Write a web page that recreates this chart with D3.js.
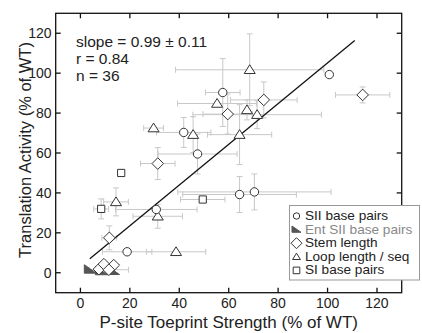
<!DOCTYPE html>
<html><head><meta charset="utf-8">
<script src="https://cdn.jsdelivr.net/npm/d3@7"></script>
<style>body{margin:0;background:#fff}svg{display:block}text{font-family:"Liberation Sans",Arial,sans-serif;fill:#222}</style>
</head><body><svg id="c" width="422" height="333"></svg>
<script>
// Data: [x, y, xerr, yerr]
const sii = [[57.6,90.3,7,17],[41.8,70.3,11,7.5],[100.7,99.3,0,0],[47.4,59.5,16,10],[64.4,39.2,23,9],[70.4,40.5,31,9],[30.7,31.7,16.5,0],[18.9,10.5,10,0]];
const entSii = [[4,1.6,0,0],[13.4,0.9,0,0],[8.5,0.8,0,0]];
const stem = [[74.2,86.6,13.5,9],[59.6,79.5,10,10],[114.2,89.1,11,4],[31.3,54.7,7,8],[11.7,17.5,3,6],[7.5,1.8,0,0],[9.5,4.3,0,0],[13.5,3.8,0,0],[11.5,1.5,8,0]];
const loop = [[68.5,101.7,30,18],[55.3,84.8,16,0],[67.4,81.6,0,5],[71.5,79.2,26,7],[64.4,69.2,13,15],[29.6,72.5,4,0],[45.6,69.2,0,9],[14.4,35.5,5,7],[31.3,28.3,10,6],[38.7,10.5,12,0]];
const si = [[16.5,50.0,0,0],[49.5,36.7,9,0],[8.4,32.0,3,5]];
const fitLine = [[3.8,7.0],[111,116.4]];
const xTicks = [0,20,40,60,80,100,120];
const yTicks = [0,20,40,60,80,100,120];
const legendLabels = ["SII base pairs","Ent SII base pairs","Stem length","Loop length / seq","SI base pairs"];
const stats = ["slope = 0.99 \u00b1 0.11","r = 0.84","n = 36"];

const svg = d3.select("#c");
const L=55.7,R=401.7,T=13.3,B=292.7;
const x = d3.scaleLinear().domain([-10,130]).range([L,R]);
const y = d3.scaleLinear().domain([-10,130]).range([B,T]);
const ink="#333", eb="#c8c8c8";

// error bars
const all = [].concat(sii,entSii,stem,loop,si);
const gE = svg.append("g").attr("stroke",eb).attr("stroke-width",1).attr("fill","none");
all.forEach(d=>{
  const [vx,vy,ex,ey]=d;
  if(ex>0){
    gE.append("line").attr("x1",x(vx-ex)).attr("x2",x(vx+ex)).attr("y1",y(vy)).attr("y2",y(vy));
    [vx-ex,vx+ex].forEach(v=>gE.append("line").attr("x1",x(v)).attr("x2",x(v)).attr("y1",y(vy)-3).attr("y2",y(vy)+3));
  }
  if(ey>0){
    gE.append("line").attr("x1",x(vx)).attr("x2",x(vx)).attr("y1",y(vy-ey)).attr("y2",y(vy+ey));
    [vy-ey,vy+ey].forEach(v=>gE.append("line").attr("y1",y(v)).attr("y2",y(v)).attr("x1",x(vx)-3).attr("x2",x(vx)+3));
  }
});

// fit line
svg.append("line").attr("x1",x(fitLine[0][0])).attr("y1",y(fitLine[0][1]))
  .attr("x2",x(fitLine[1][0])).attr("y2",y(fitLine[1][1])).attr("stroke","#111").attr("stroke-width",1.3);

// marker shapes
const shapes = {
  circle: s=>d3.symbol().type(d3.symbolCircle).size(Math.PI*s*s)(),
  diamond: s=>`M0,${-s}L${s},0L0,${s}L${-s},0Z`,
  tri: s=>`M0,${-s}L${s*1.1},${s*0.75}L${-s*1.1},${s*0.75}Z`,
  square: s=>`M${-s},${-s}H${s}V${s}H${-s}Z`,
  ent: s=>`M${-s},${-s*0.8}L${-s},${s*0.6}L${s},${s*0.6}Z`
};
function plot(data,shape,size,fill,stroke){
  svg.append("g").selectAll("path").data(data).join("path")
    .attr("d",shapes[shape](size)).attr("transform",d=>`translate(${x(d[0])},${y(d[1])})`)
    .attr("fill",fill).attr("stroke",stroke).attr("stroke-width",1);
}
plot(entSii,"ent",6,"#555","#555");
plot(si,"square",3.6,"#fff",ink);
plot(loop,"tri",5,"#fff",ink);
plot(stem,"diamond",5.8,"#fff",ink);
plot(sii,"circle",4.2,"#fff",ink);

// axes box
const frame = svg.append("g").attr("stroke","#111").attr("stroke-width",1.3);
frame.append("rect").attr("x",L).attr("y",T).attr("width",R-L).attr("height",B-T).attr("fill","none");
xTicks.forEach(t=>{
  frame.append("line").attr("x1",x(t)).attr("x2",x(t)).attr("y1",B).attr("y2",B-5);
  frame.append("line").attr("x1",x(t)).attr("x2",x(t)).attr("y1",T).attr("y2",T+5);
});
yTicks.forEach(t=>{
  frame.append("line").attr("y1",y(t)).attr("y2",y(t)).attr("x1",L).attr("x2",L+5);
  frame.append("line").attr("y1",y(t)).attr("y2",y(t)).attr("x1",R).attr("x2",R-5);
});
svg.append("g").selectAll("text").data(xTicks).join("text")
  .attr("x",d=>x(d)).attr("y",308).attr("text-anchor","middle").attr("font-size",14).text(d=>d);
svg.append("g").selectAll("text").data(yTicks).join("text")
  .attr("x",51.5).attr("y",d=>y(d)+5).attr("text-anchor","end").attr("font-size",14).text(d=>d);

svg.append("text").attr("x",(L+R)/2).attr("y",328).attr("text-anchor","middle").attr("font-size",17)
  .text("P-site Toeprint Strength (% of WT)");
svg.append("text").attr("transform","translate(31,150) rotate(-90)").attr("text-anchor","middle").attr("font-size",16.5)
  .text("Translation Activity (% of WT)");

svg.append("g").selectAll("text").data(stats).join("text")
  .attr("x",76).attr("y",(d,i)=>46.5+i*17.3).attr("font-size",15.5).text(d=>d);

// legend
const lg = svg.append("g");
lg.append("rect").attr("x",289.5).attr("y",205.5).attr("width",130).attr("height",74.5)
  .attr("fill","#fff").attr("stroke","#999").attr("stroke-width",1);
const legShapes=[["circle",3.2,"#fff",ink],["ent",4.5,"#555","#555"],["diamond",5.5,"#fff",ink],["tri",3.6,"#fff",ink],["square",3.3,"#fff",ink]];
legendLabels.forEach((lab,i)=>{
  const cy=215+i*13.6;
  const s=legShapes[i];
  lg.append("path").attr("d",shapes[s[0]](s[1])).attr("transform",`translate(296.5,${cy+1})`)
    .attr("fill",s[2]).attr("stroke",s[3]).attr("stroke-width",1);
  lg.append("text").attr("x",305).attr("y",cy+5).attr("font-size",13.6).style("fill",i===1?"#888":"#222").text(lab);
});
</script></body></html>
